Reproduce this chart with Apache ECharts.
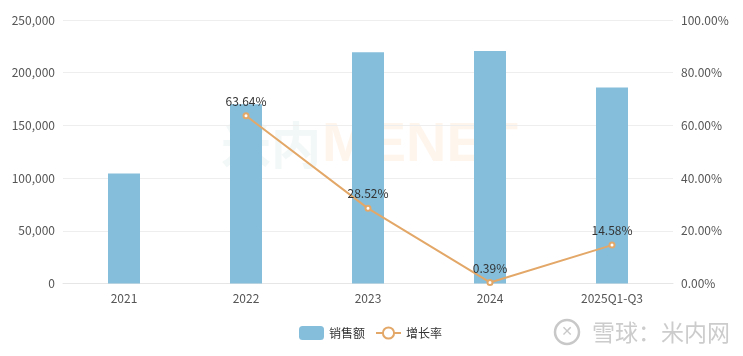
<!DOCTYPE html>
<html><head><meta charset="utf-8">
<script src="https://cdn.jsdelivr.net/npm/echarts@6/dist/echarts.min.js"></script>
<style>html,body{margin:0;padding:0;background:#fff}#c{width:743px;height:356px}</style>
</head><body><div id="c"></div>
<script>
const categories = ['2021','2022','2023','2024','2025Q1-Q3'];
const sales = [104400, 170000, 219500, 220500, 186000];
const growth = [null, 63.64, 28.52, 0.39, 14.58];
const leftTicks = [0, 50000, 100000, 150000, 200000, 250000];
const rightTicks = [0, 20, 40, 60, 80, 100];

const chart = echarts.init(document.getElementById('c'));
const font = '"Microsoft YaHei","Noto Sans CJK SC",sans-serif';
chart.setOption({
  animation: false,
  textStyle: {fontFamily: font},
  grid: {left: 63, right: 70, top: 20, bottom: 72.5},
  legend: {
    top: 321, left: 294, itemWidth: 25, itemHeight: 14, itemGap: 10,
    textStyle: {color: '#333', fontSize: 12, fontFamily: font},
    data: ['销售额', '增长率']
  },
  graphic: [
    {type: 'text', left: 221, top: 120, silent: true, z: 0,
     style: {text: '米内', fontSize: 50, fontWeight: 'bold', fill: 'rgba(150,190,190,0.12)', fontFamily: font}},
    {type: 'text', left: 322, top: 118, silent: true, z: 0,
     style: {text: 'MENET', fontSize: 56, fontWeight: 'bold', fill: 'rgba(250,170,110,0.12)', fontFamily: 'Liberation Sans'}},
    {type: 'circle', silent: true, shape: {cx: 567, cy: 332, r: 12},
     style: {fill: 'none', stroke: '#c8c8c8', lineWidth: 2.5}},
    {type: 'text', silent: true, x: 567, y: 332,
     style: {text: '✕', fontSize: 14, fill: '#c8c8c8', align: 'center', verticalAlign: 'middle', fontFamily: 'DejaVu Sans'}},
    {type: 'text', silent: true, x: 592, y: 332,
     style: {text: '雪球：米内网', fontSize: 23, fill: '#cccccc', verticalAlign: 'middle', fontFamily: font}}
  ],
  xAxis: {
    type: 'category', data: categories,
    axisLine: {show: true, lineStyle: {color: '#e6e6e6'}},
    axisTick: {show: false},
    axisLabel: {color: '#555', fontSize: 12, margin: 9}
  },
  yAxis: [
    {type: 'value', min: leftTicks[0], max: leftTicks[leftTicks.length-1], interval: 50000,
     axisLine: {show: false}, axisTick: {show: false},
     splitLine: {lineStyle: {color: '#eeeeee'}},
     axisLabel: {color: '#555', fontSize: 12, margin: 8,
       formatter: v => v.toLocaleString('en-US')}},
    {type: 'value', min: rightTicks[0], max: rightTicks[rightTicks.length-1], interval: 20,
     axisLine: {show: false}, axisTick: {show: false},
     splitLine: {show: false},
     axisLabel: {color: '#555', fontSize: 12, margin: 8,
       formatter: v => v.toFixed(2) + '%'}}
  ],
  series: [
    {name: '销售额', type: 'bar', data: sales, barWidth: 32, z: 2,
     itemStyle: {color: '#85BEDB'}},
    {name: '增长率', type: 'line', yAxisIndex: 1, data: growth, z: 3,
     symbol: 'emptyCircle', symbolSize: 5,
     lineStyle: {color: '#E3A868', width: 2},
     itemStyle: {color: '#E3A868', borderWidth: 1.5},
     label: {show: true, position: 'top', distance: 5, color: '#333', fontSize: 12,
       formatter: p => p.value.toFixed(2) + '%'}}
  ]
});
</script></body></html>
